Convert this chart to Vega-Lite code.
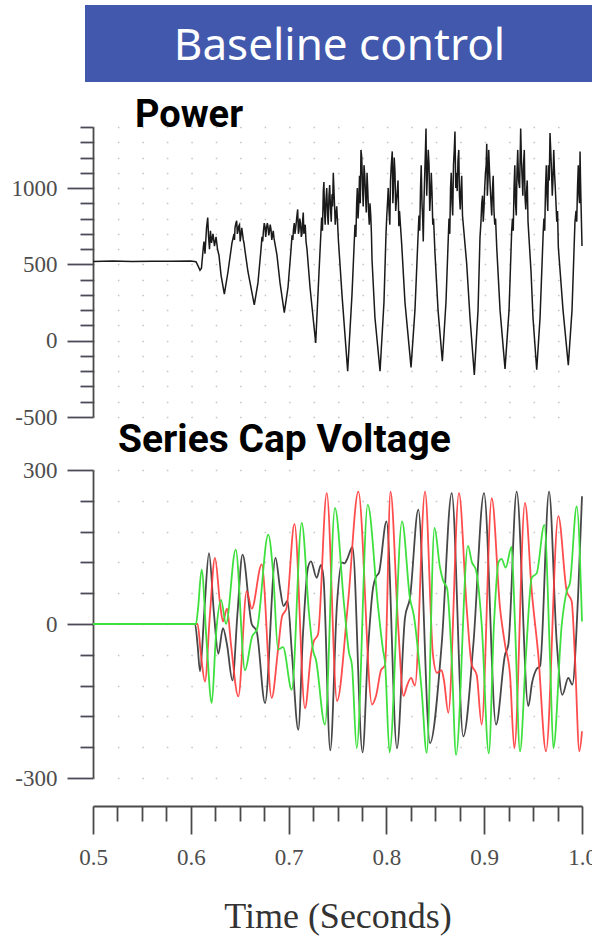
{
  "$schema": "https://vega.github.io/schema/vega-lite/v6.json",
  "padding": {"left": 11, "top": 5, "right": -5, "bottom": 5},
  "background": "white",
  "bounds": "flush",
  "spacing": 53,
  "config": {"view": {"stroke": null}},
  "datasets": {
    "power": [
      {"t":0.5,"P":518},{"t":0.52,"P":522},{"t":0.54,"P":519},{"t":0.56,"P":521},{"t":0.58,"P":520},{"t":0.6,"P":522},
      {"t":0.6053,"P":517},{"t":0.6074,"P":490},{"t":0.6094,"P":461},{"t":0.6109,"P":475},{"t":0.6128,"P":612},
      {"t":0.6135,"P":650},{"t":0.6145,"P":570},{"t":0.6161,"P":740},{"t":0.6173,"P":807},{"t":0.6181,"P":690},{"t":0.6191,"P":600},{"t":0.6201,"P":720},{"t":0.6212,"P":640},{"t":0.6227,"P":700},{"t":0.6242,"P":620},{"t":0.6258,"P":680},{"t":0.6273,"P":600},{"t":0.6288,"P":560},{"t":0.6309,"P":430},{"t":0.6343,"P":305},
      {"t":0.638,"P":450},{"t":0.6421,"P":640},{"t":0.6442,"P":700},{"t":0.6452,"P":740},{"t":0.6469,"P":786},{"t":0.6483,"P":720},{"t":0.6498,"P":760},{"t":0.6513,"P":690},{"t":0.6529,"P":700},{"t":0.6544,"P":640},{"t":0.6554,"P":590},{"t":0.6585,"P":450},{"t":0.6649,"P":234},
      {"t":0.6687,"P":380},{"t":0.6718,"P":600},{"t":0.6728,"P":680},{"t":0.6743,"P":720},{"t":0.6759,"P":745},{"t":0.6774,"P":735},{"t":0.6789,"P":750},{"t":0.6805,"P":720},{"t":0.682,"P":730},{"t":0.6835,"P":690},{"t":0.6851,"P":670},{"t":0.6881,"P":560},{"t":0.6912,"P":380},{"t":0.6956,"P":184},
      {"t":0.6994,"P":350},{"t":0.7025,"P":600},{"t":0.7035,"P":690},{"t":0.705,"P":730},{"t":0.7065,"P":700},{"t":0.7081,"P":790},{"t":0.7093,"P":860},{"t":0.7106,"P":720},{"t":0.7122,"P":770},{"t":0.7137,"P":700},{"t":0.715,"P":840},{"t":0.7163,"P":740},{"t":0.7178,"P":650},{"t":0.7188,"P":600},{"t":0.7219,"P":350},{"t":0.7277,"P":-15},
      {"t":0.7311,"P":450},{"t":0.7338,"P":807},{"t":0.7355,"P":980},{"t":0.7367,"P":850},{"t":0.7382,"P":920},{"t":0.7398,"P":830},{"t":0.7413,"P":950},{"t":0.7428,"P":870},{"t":0.7444,"P":960},{"t":0.7457,"P":1100},{"t":0.7469,"P":900},{"t":0.7485,"P":830},{"t":0.75,"P":780},{"t":0.751,"P":650},{"t":0.7546,"P":300},{"t":0.7604,"P":-200},
      {"t":0.7648,"P":300},{"t":0.7679,"P":760},{"t":0.7696,"P":900},{"t":0.771,"P":800},{"t":0.7725,"P":1080},{"t":0.774,"P":1250},{"t":0.7756,"P":1000},{"t":0.7771,"P":1150},{"t":0.7786,"P":960},{"t":0.7802,"P":1100},{"t":0.7817,"P":850},{"t":0.7832,"P":900},{"t":0.7847,"P":700},{"t":0.7853,"P":530},{"t":0.7883,"P":150},{"t":0.7935,"P":-200},
      {"t":0.7975,"P":250},{"t":0.7996,"P":700},{"t":0.8011,"P":900},{"t":0.8027,"P":850},{"t":0.8042,"P":1050},{"t":0.806,"P":1240},{"t":0.8072,"P":1000},{"t":0.8088,"P":1100},{"t":0.8103,"P":920},{"t":0.8119,"P":1050},{"t":0.8134,"P":850},{"t":0.8156,"P":636},{"t":0.819,"P":250},{"t":0.8252,"P":-175},
      {"t":0.8292,"P":200},{"t":0.8326,"P":720},{"t":0.8333,"P":820},{"t":0.8349,"P":1000},{"t":0.8364,"P":900},{"t":0.8377,"P":650},{"t":0.839,"P":1050},{"t":0.8405,"P":1390},{"t":0.842,"P":1100},{"t":0.8436,"P":1150},{"t":0.8451,"P":950},{"t":0.8466,"P":980},{"t":0.8482,"P":800},{"t":0.8497,"P":570},{"t":0.8528,"P":200},{"t":0.8572,"P":-135},
      {"t":0.8609,"P":250},{"t":0.8633,"P":677},{"t":0.864,"P":800},{"t":0.8656,"P":1000},{"t":0.8671,"P":900},{"t":0.8686,"P":1150},{"t":0.8701,"P":1370},{"t":0.8717,"P":1100},{"t":0.8732,"P":1180},{"t":0.8747,"P":950},{"t":0.8763,"P":1000},{"t":0.8778,"P":820},{"t":0.8821,"P":504},{"t":0.8855,"P":150},{"t":0.8899,"P":-225},
      {"t":0.8937,"P":200},{"t":0.8957,"P":677},{"t":0.8967,"P":780},{"t":0.8983,"P":950},{"t":0.8998,"P":870},{"t":0.9013,"P":1100},{"t":0.9026,"P":1290},{"t":0.9039,"P":1050},{"t":0.9054,"P":1120},{"t":0.907,"P":900},{"t":0.9085,"P":1000},{"t":0.91,"P":850},{"t":0.9116,"P":800},{"t":0.9128,"P":612},{"t":0.9162,"P":200},{"t":0.9213,"P":-185},
      {"t":0.9254,"P":200},{"t":0.9281,"P":720},{"t":0.9289,"P":800},{"t":0.9305,"P":1000},{"t":0.932,"P":900},{"t":0.9335,"P":1100},{"t":0.9351,"P":1050},{"t":0.9373,"P":1390},{"t":0.9387,"P":1080},{"t":0.9402,"P":1150},{"t":0.9417,"P":950},{"t":0.9433,"P":980},{"t":0.9448,"P":780},{"t":0.9479,"P":450},{"t":0.9499,"P":150},{"t":0.9537,"P":-190},
      {"t":0.9571,"P":150},{"t":0.9604,"P":720},{"t":0.9611,"P":800},{"t":0.9627,"P":1000},{"t":0.9642,"P":950},{"t":0.9657,"P":1150},{"t":0.9673,"P":1360},{"t":0.9688,"P":1120},{"t":0.9703,"P":1050},{"t":0.9719,"P":1100},{"t":0.9734,"P":900},{"t":0.975,"P":850},{"t":0.9758,"P":612},{"t":0.9806,"P":200},{"t":0.986,"P":-160},
      {"t":0.9898,"P":200},{"t":0.9928,"P":779},{"t":0.9939,"P":850},{"t":0.9954,"P":1000},{"t":0.9969,"P":950},{"t":0.998,"P":1240},{"t":0.999,"P":900},{"t":1.0,"P":620},
      {"t":0.6447,"P":660},{"t":0.6461,"P":770},{"t":0.6476,"P":700},{"t":0.649,"P":750},{"t":0.6505,"P":650},{"t":0.6521,"P":740},{"t":0.6537,"P":660},
      {"t":0.6735,"P":650},{"t":0.6751,"P":770},{"t":0.6766,"P":680},{"t":0.6782,"P":770},{"t":0.6797,"P":690},{"t":0.6812,"P":760},{"t":0.6828,"P":660},{"t":0.6843,"P":720},
      {"t":0.7043,"P":660},{"t":0.7058,"P":770},{"t":0.7073,"P":740},{"t":0.7087,"P":830},{"t":0.71,"P":700},{"t":0.7114,"P":800},{"t":0.713,"P":680},{"t":0.7143,"P":780},{"t":0.7156,"P":700},{"t":0.717,"P":760},
      {"t":0.7346,"P":720},{"t":0.7361,"P":1040},{"t":0.7374,"P":760},{"t":0.739,"P":1000},{"t":0.7405,"P":760},{"t":0.742,"P":1020},{"t":0.7436,"P":780},{"t":0.745,"P":880},{"t":0.7463,"P":1000},{"t":0.7477,"P":760},{"t":0.7492,"P":880},
      {"t":0.7688,"P":680},{"t":0.7703,"P":1000},{"t":0.7718,"P":900},{"t":0.7733,"P":900},{"t":0.7748,"P":1200},{"t":0.7763,"P":880},{"t":0.7779,"P":1080},{"t":0.7794,"P":840},{"t":0.781,"P":980},{"t":0.7825,"P":760},{"t":0.784,"P":820},
      {"t":0.8004,"P":820},{"t":0.8019,"P":1000},{"t":0.8035,"P":760},{"t":0.805,"P":1150},{"t":0.8066,"P":900},{"t":0.808,"P":1200},{"t":0.8095,"P":850},{"t":0.8111,"P":980},{"t":0.8127,"P":750},
      {"t":0.8341,"P":720},{"t":0.8356,"P":1150},{"t":0.8371,"P":800},{"t":0.8384,"P":900},{"t":0.8397,"P":1200},{"t":0.8412,"P":950},{"t":0.8428,"P":1250},{"t":0.8443,"P":850},{"t":0.8459,"P":1100},{"t":0.8474,"P":760},
      {"t":0.8648,"P":700},{"t":0.8663,"P":1100},{"t":0.8678,"P":820},{"t":0.8694,"P":1250},{"t":0.8709,"P":1000},{"t":0.8724,"P":980},{"t":0.874,"P":1250},{"t":0.8755,"P":860},{"t":0.877,"P":1080},
      {"t":0.8975,"P":900},{"t":0.899,"P":780},{"t":0.9005,"P":1000},{"t":0.902,"P":1150},{"t":0.9032,"P":950},{"t":0.9046,"P":1250},{"t":0.9062,"P":1000},{"t":0.9077,"P":820},{"t":0.9092,"P":1080},{"t":0.9108,"P":760},
      {"t":0.9297,"P":720},{"t":0.9313,"P":1150},{"t":0.9328,"P":820},{"t":0.9343,"P":1250},{"t":0.9362,"P":1000},{"t":0.938,"P":1200},{"t":0.9395,"P":950},{"t":0.941,"P":1250},{"t":0.9425,"P":860},{"t":0.944,"P":1050},
      {"t":0.9619,"P":720},{"t":0.9635,"P":1150},{"t":0.965,"P":850},{"t":0.9665,"P":1050},{"t":0.968,"P":1250},{"t":0.9696,"P":950},{"t":0.9711,"P":1250},{"t":0.9727,"P":1000},{"t":0.9742,"P":780},
      {"t":0.9946,"P":780},{"t":0.9962,"P":1150},{"t":0.9975,"P":900},{"t":0.9985,"P":1050}
    ],
    "volt": [
      {"ph":"a","t":0.5,"v":0},{"ph":"a","t":0.6043,"v":0},{"ph":"a","t":0.6069,"v":-40},{"ph":"a","t":0.6094,"v":-92},{"ph":"a","t":0.614,"v":30},{"ph":"a","t":0.6186,"v":138},{"ph":"a","t":0.6237,"v":20},{"ph":"a","t":0.6281,"v":-58},{"ph":"a","t":0.6329,"v":-8},{"ph":"a","t":0.637,"v":-40},{"ph":"a","t":0.6426,"v":-110},{"ph":"a","t":0.6477,"v":20},{"ph":"a","t":0.6529,"v":135},{"ph":"a","t":0.6623,"v":0},{"ph":"a","t":0.6673,"v":-14},{"ph":"a","t":0.6759,"v":-154},{"ph":"a","t":0.6866,"v":129},{"ph":"a","t":0.6912,"v":70},{"ph":"a","t":0.6948,"v":35},{"ph":"a","t":0.6989,"v":45},{"ph":"a","t":0.7035,"v":-60},{"ph":"a","t":0.7099,"v":-206},{"ph":"a","t":0.7147,"v":-20},{"ph":"a","t":0.7198,"v":110},{"ph":"a","t":0.7229,"v":122},{"ph":"a","t":0.7287,"v":90},{"ph":"a","t":0.7331,"v":115},{"ph":"a","t":0.7357,"v":90},{"ph":"a","t":0.7426,"v":-246},{"ph":"a","t":0.7495,"v":40},{"ph":"a","t":0.7543,"v":120},{"ph":"a","t":0.7572,"v":118},{"ph":"a","t":0.7602,"v":128},{"ph":"a","t":0.7653,"v":150},{"ph":"a","t":0.7756,"v":-250},{"ph":"a","t":0.7812,"v":-50},{"ph":"a","t":0.7863,"v":70},{"ph":"a","t":0.7894,"v":92},{"ph":"a","t":0.7924,"v":100},{"ph":"a","t":0.8001,"v":200},{"ph":"a","t":0.8108,"v":-242},{"ph":"a","t":0.819,"v":12},{"ph":"a","t":0.8241,"v":51},{"ph":"a","t":0.8326,"v":223},{"ph":"a","t":0.8446,"v":-232},{"ph":"a","t":0.8565,"v":-40},{"ph":"a","t":0.8668,"v":255},{"ph":"a","t":0.8786,"v":-219},{"ph":"a","t":0.8889,"v":-40},{"ph":"a","t":0.8998,"v":255},{"ph":"a","t":0.9121,"v":-196},{"ph":"a","t":0.9213,"v":-60},{"ph":"a","t":0.9247,"v":-40},{"ph":"a","t":0.9332,"v":258},{"ph":"a","t":0.9451,"v":-160},{"ph":"a","t":0.9489,"v":-115},{"ph":"a","t":0.9535,"v":-88},{"ph":"a","t":0.9571,"v":-82},{"ph":"a","t":0.9663,"v":258},{"ph":"a","t":0.9741,"v":-34},{"ph":"a","t":0.9799,"v":-138},{"ph":"a","t":0.986,"v":-105},{"ph":"a","t":0.9901,"v":-118},{"ph":"a","t":0.9962,"v":64},{"ph":"a","t":1.0,"v":249},
      {"ph":"b","t":0.5,"v":0},{"ph":"b","t":0.6069,"v":0},{"ph":"b","t":0.6104,"v":-60},{"ph":"b","t":0.6145,"v":-112},{"ph":"b","t":0.6196,"v":20},{"ph":"b","t":0.6247,"v":129},{"ph":"b","t":0.6299,"v":40},{"ph":"b","t":0.6329,"v":5},{"ph":"b","t":0.637,"v":30},{"ph":"b","t":0.6411,"v":-40},{"ph":"b","t":0.6486,"v":-141},{"ph":"b","t":0.6572,"v":64},{"ph":"b","t":0.6623,"v":30},{"ph":"b","t":0.6725,"v":116},{"ph":"b","t":0.6827,"v":-144},{"ph":"b","t":0.6892,"v":-50},{"ph":"b","t":0.6933,"v":15},{"ph":"b","t":0.6978,"v":30},{"ph":"b","t":0.706,"v":195},{"ph":"b","t":0.7168,"v":-164},{"ph":"b","t":0.7229,"v":-60},{"ph":"b","t":0.7255,"v":-35},{"ph":"b","t":0.7301,"v":-20},{"ph":"b","t":0.739,"v":255},{"ph":"b","t":0.7495,"v":-150},{"ph":"b","t":0.7607,"v":40},{"ph":"b","t":0.7713,"v":258},{"ph":"b","t":0.7853,"v":-157},{"ph":"b","t":0.7894,"v":-140},{"ph":"b","t":0.7945,"v":-90},{"ph":"b","t":0.7986,"v":-80},{"ph":"b","t":0.8042,"v":258},{"ph":"b","t":0.8119,"v":0},{"ph":"b","t":0.8175,"v":-140},{"ph":"b","t":0.8211,"v":-120},{"ph":"b","t":0.8252,"v":-105},{"ph":"b","t":0.8292,"v":-120},{"ph":"b","t":0.8395,"v":258},{"ph":"b","t":0.8476,"v":-60},{"ph":"b","t":0.8517,"v":-95},{"ph":"b","t":0.8563,"v":-90},{"ph":"b","t":0.8589,"v":-110},{"ph":"b","t":0.8633,"v":-173},{"ph":"b","t":0.8742,"v":255},{"ph":"b","t":0.8821,"v":31},{"ph":"b","t":0.8872,"v":-79},{"ph":"b","t":0.8923,"v":-99},{"ph":"b","t":0.8974,"v":-196},{"ph":"b","t":0.9077,"v":245},{"ph":"b","t":0.9162,"v":31},{"ph":"b","t":0.9213,"v":-40},{"ph":"b","t":0.9264,"v":-99},{"ph":"b","t":0.9308,"v":-242},{"ph":"b","t":0.9417,"v":236},{"ph":"b","t":0.9486,"v":64},{"ph":"b","t":0.9553,"v":-60},{"ph":"b","t":0.9632,"v":-248},{"ph":"b","t":0.9758,"v":210},{"ph":"b","t":0.9844,"v":64},{"ph":"b","t":0.9895,"v":44},{"ph":"b","t":0.9928,"v":-66},{"ph":"b","t":0.9973,"v":-248},{"ph":"b","t":1.0,"v":-209},
      {"ph":"c","t":0.5,"v":0},{"ph":"c","t":0.6053,"v":0},{"ph":"c","t":0.6074,"v":30},{"ph":"c","t":0.6111,"v":106},{"ph":"c","t":0.616,"v":-30},{"ph":"c","t":0.6214,"v":-154},{"ph":"c","t":0.6258,"v":-20},{"ph":"c","t":0.6309,"v":47},{"ph":"c","t":0.636,"v":0},{"ph":"c","t":0.6459,"v":145},{"ph":"c","t":0.6554,"v":-90},{"ph":"c","t":0.6626,"v":-25},{"ph":"c","t":0.6677,"v":-10},{"ph":"c","t":0.6792,"v":174},{"ph":"c","t":0.6843,"v":96},{"ph":"c","t":0.6892,"v":-50},{"ph":"c","t":0.6943,"v":-45},{"ph":"c","t":0.7032,"v":-128},{"ph":"c","t":0.7134,"v":197},{"ph":"c","t":0.7209,"v":20},{"ph":"c","t":0.7249,"v":-50},{"ph":"c","t":0.728,"v":-70},{"ph":"c","t":0.7372,"v":-196},{"ph":"c","t":0.7474,"v":226},{"ph":"c","t":0.7566,"v":40},{"ph":"c","t":0.7617,"v":-55},{"ph":"c","t":0.7648,"v":-80},{"ph":"c","t":0.7696,"v":-242},{"ph":"c","t":0.7809,"v":232},{"ph":"c","t":0.7914,"v":35},{"ph":"c","t":0.7965,"v":-50},{"ph":"c","t":0.7986,"v":-75},{"ph":"c","t":0.8032,"v":-250},{"ph":"c","t":0.816,"v":200},{"ph":"c","t":0.8241,"v":50},{"ph":"c","t":0.8282,"v":15},{"ph":"c","t":0.8361,"v":-131},{"ph":"c","t":0.8412,"v":-251},{"ph":"c","t":0.8492,"v":187},{"ph":"c","t":0.8548,"v":110},{"ph":"c","t":0.8579,"v":85},{"ph":"c","t":0.862,"v":70},{"ph":"c","t":0.8668,"v":-70},{"ph":"c","t":0.8712,"v":-255},{"ph":"c","t":0.8834,"v":152},{"ph":"c","t":0.8875,"v":120},{"ph":"c","t":0.8916,"v":105},{"ph":"c","t":0.8974,"v":0},{"ph":"c","t":0.9047,"v":-252},{"ph":"c","t":0.91,"v":0},{"ph":"c","t":0.9146,"v":120},{"ph":"c","t":0.9177,"v":127},{"ph":"c","t":0.922,"v":110},{"ph":"c","t":0.9279,"v":150},{"ph":"c","t":0.9315,"v":-1},{"ph":"c","t":0.9366,"v":-248},{"ph":"c","t":0.9427,"v":-60},{"ph":"c","t":0.9486,"v":90},{"ph":"c","t":0.9537,"v":99},{"ph":"c","t":0.9615,"v":193},{"ph":"c","t":0.9673,"v":-66},{"ph":"c","t":0.9707,"v":-242},{"ph":"c","t":0.9793,"v":-1},{"ph":"c","t":0.9844,"v":64},{"ph":"c","t":0.9877,"v":80},{"ph":"c","t":0.9946,"v":229},{"ph":"c","t":1.0,"v":5}
    ]
  },
  "vconcat": [
    {
      "width": 493,
      "height": 61,
      "view": {"fill": "#4158AC", "stroke": "#4158AC", "strokeWidth": 16},
      "data": {"values": [{"label": "Baseline control"}]},
      "mark": {"type": "text", "color": "white", "font": "Noto Sans", "fontSize": 44, "align": "center", "baseline": "middle", "dy": 3},
      "encoding": {"text": {"field": "label"}}
    },
    {
      "width": 489,
      "height": 290,
      "title": {"text": "Power", "anchor": "start", "frame": "group", "dx": 42, "font": "Roboto", "fontSize": 38, "fontWeight": "bold", "color": "black", "baseline": "alphabetic", "offset": -49},
      "data": {"name": "power"},
      "mark": {"type": "line", "color": "#1a1a1a", "strokeWidth": 1.5},
      "encoding": {
        "x": {"field": "t", "type": "quantitative", "scale": {"domain": [0.5, 1.0], "nice": false, "zero": false}, "axis": null},
        "y": {
          "field": "P", "type": "quantitative",
          "scale": {"domain": [-500, 1400], "nice": false, "zero": false},
          "axis": {
            "title": null,
            "values": [-500,-400,-300,-200,-100,0,100,200,300,400,500,600,700,800,900,1000,1100,1200,1300,1400],
            "labelExpr": "datum.value % 500 === 0 ? '' + datum.value : ''",
            "tickSize": {"condition": {"test": "datum.value % 500 === 0", "value": 26}, "value": 13},
            "tickColor": "#4a4a58", "tickWidth": 1.8,
            "domainColor": "#4a4a4a", "domainWidth": 1.8,
            "labelFont": "Liberation Serif", "labelFontSize": 23, "labelColor": "#4d4d4d", "labelPadding": 10,
            "labelOverlap": false,
            "grid": true, "gridColor": "#c4c4c4", "gridDash": [1.5, 22.95], "gridWidth": 1.5
          }
        }
      }
    },
    {
      "width": 489,
      "height": 308,
      "title": {"text": "Series Cap Voltage", "anchor": "start", "frame": "group", "dx": 25, "font": "Roboto", "fontSize": 39, "fontWeight": "bold", "color": "black", "baseline": "alphabetic", "offset": -32},
      "data": {"name": "volt"},
      "encoding": {
        "x": {
          "field": "t", "type": "quantitative",
          "scale": {"domain": [0.5, 1.0], "nice": false, "zero": false},
          "axis": {
            "title": "Time (Seconds)",
            "offset": 28,
            "values": [0.5,0.525,0.55,0.575,0.6,0.625,0.65,0.675,0.7,0.725,0.75,0.775,0.8,0.825,0.85,0.875,0.9,0.925,0.95,0.975,1.0],
            "labelExpr": "abs(datum.value * 10 - round(datum.value * 10)) < 0.001 ? format(datum.value, '.1f') : ''",
            "tickSize": {"condition": {"test": "abs(datum.value * 10 - round(datum.value * 10)) < 0.001", "value": 28}, "value": 15},
            "tickColor": "#4a4a4a", "tickWidth": 1.8,
            "domainColor": "#4a4a4a", "domainWidth": 1.8,
            "labelFont": "Liberation Serif", "labelFontSize": 23, "labelColor": "#4d4d4d", "labelPadding": 12,
            "labelOverlap": false, "labelFlush": false,
            "titleFont": "Liberation Serif", "titleFontSize": 36, "titleFontWeight": "normal", "titleColor": "#333333", "titlePadding": 30,
            "grid": false
          }
        },
        "y": {
          "field": "v", "type": "quantitative",
          "scale": {"domain": [-300, 300], "nice": false, "zero": false},
          "axis": {
            "title": null,
            "values": [-300,-240,-180,-120,-60,0,60,120,180,240,300],
            "labelExpr": "datum.value % 300 === 0 ? '' + datum.value : ''",
            "tickSize": {"condition": {"test": "datum.value % 300 === 0", "value": 26}, "value": 13},
            "tickColor": "#4a4a58", "tickWidth": 1.8,
            "domainColor": "#4a4a4a", "domainWidth": 1.8,
            "labelFont": "Liberation Serif", "labelFontSize": 23, "labelColor": "#4d4d4d", "labelPadding": 10,
            "labelOverlap": false,
            "grid": true, "gridColor": "#c4c4c4", "gridDash": [1.5, 22.95], "gridWidth": 1.5
          }
        }
      },
      "layer": [
        {"transform": [{"filter": "datum.ph === 'a'"}], "mark": {"type": "line", "color": "#333333", "strokeWidth": 1.8, "interpolate": "monotone", "opacity": 0.9}},
        {"transform": [{"filter": "datum.ph === 'b'"}], "mark": {"type": "line", "color": "#ff3838", "strokeWidth": 1.8, "interpolate": "monotone", "opacity": 0.9}},
        {"transform": [{"filter": "datum.ph === 'c'"}], "mark": {"type": "line", "color": "#3ee03e", "strokeWidth": 1.8, "interpolate": "monotone"}}
      ]
    }
  ]
}
